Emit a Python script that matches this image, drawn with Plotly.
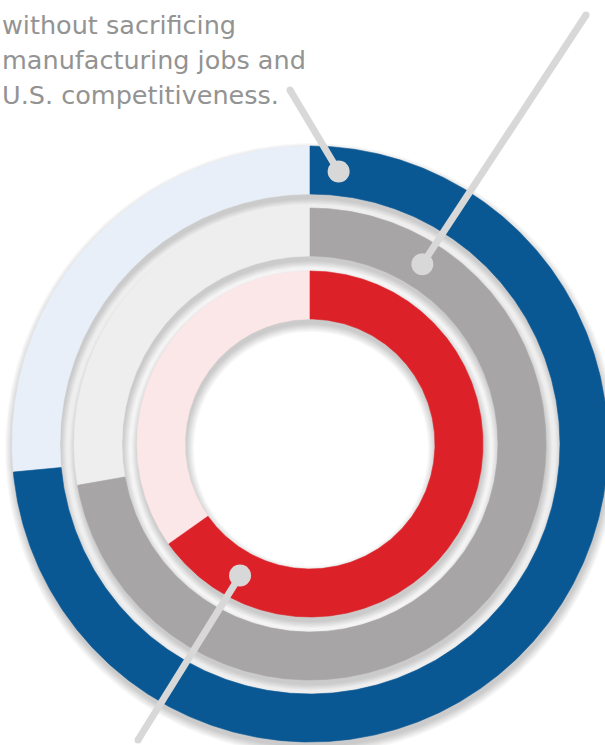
import numpy as np
import plotly.graph_objects as go

# ---- data ----
ring_names = ["Outer", "Middle", "Inner"]
ring_values = [73.5, 72.2, 65.2]          # percent filled (clockwise from 12 o'clock)
ring_colors = ["#0a5893", "#a7a5a6", "#dc2128"]
ring_rest_colors = ["#e8eff9", "#eeeeee", "#fbe6e8"]
text_lines = ["without sacrificing", "manufacturing jobs and", "U.S. competitiveness."]

# ---- layout constants ----
W, H = 605, 745
CX, CY = 310, 444
RADII = [(250, 298), (188, 236), (125, 173)]
callout_angles = [6, 32, 208]             # degrees clockwise from top, where dots sit
callout_ends = [(290, 90), (586, 15), (138, 740)]

def pt(r, deg, cx=CX, cy=CY):
    t = np.radians(deg)
    return cx + r * np.sin(t), cy - r * np.cos(t)

def sector(r0, r1, a0, a1, cx=CX, cy=CY):
    n = max(int(abs(a1 - a0) * 2), 8)
    ang = np.linspace(a0, a1, n)
    xo, yo = pt(r1, ang, cx, cy)
    xi, yi = pt(r0, ang[::-1], cx, cy)
    x = np.concatenate([xo, xi, xo[:1]])
    y = np.concatenate([yo, yi, yo[:1]])
    return x, y

fig = go.Figure()

# drop shadows (soft, offset downward)
for (r0, r1) in RADII:
    for k in range(0, 9):
        x, y = sector(r0 - k, r1 + k, 0, 360, CX + 1, CY + 5)
        fig.add_trace(go.Scatter(x=x, y=y, mode="lines", fill="toself",
                                 fillcolor="rgba(0,0,0,0.022)", line=dict(width=0),
                                 hoverinfo="skip", showlegend=False))

# rings
for name, v, c, rc, (r0, r1) in zip(ring_names, ring_values, ring_colors, ring_rest_colors, RADII):
    a = v / 100 * 360
    x, y = sector(r0, r1, a, 360)
    fig.add_trace(go.Scatter(x=x, y=y, mode="lines", fill="toself", fillcolor=rc,
                             line=dict(width=0.6, color=rc), hoverinfo="skip", showlegend=False))
    x, y = sector(r0, r1, 0, a)
    fig.add_trace(go.Scatter(x=x, y=y, mode="lines", fill="toself", fillcolor=c,
                             line=dict(width=0.6, color=c), name=f"{name}: {v}%",
                             hoverinfo="name", showlegend=False))

# callout leader lines
lc = "#d9d8d9"
for ang, (r0, r1), (ex, ey) in zip(callout_angles, RADII, callout_ends):
    dx, dy = pt((r0 + r1) / 2, ang)
    fig.add_trace(go.Scatter(x=[dx, ex], y=[dy, ey], mode="lines",
                             line=dict(color=lc, width=7), hoverinfo="skip", showlegend=False))
    fig.add_trace(go.Scatter(x=[ex], y=[ey], mode="markers",
                             marker=dict(color=lc, size=7), hoverinfo="skip", showlegend=False))
    fig.add_trace(go.Scatter(x=[dx], y=[dy], mode="markers",
                             marker=dict(color=lc, size=22), hoverinfo="skip", showlegend=False))

# text
for i, t in enumerate(text_lines):
    fig.add_annotation(x=0, y=1 - (25 + 35 * i) / H, xref="paper", yref="paper", text=t,
                       showarrow=False, xanchor="left", yanchor="middle",
                       font=dict(family="DejaVu Sans", size=25.5, color="#939393"))

fig.update_layout(
    width=W, height=H, margin=dict(l=0, r=0, t=0, b=0),
    paper_bgcolor="white", plot_bgcolor="white",
    xaxis=dict(range=[0, W], visible=False, fixedrange=True),
    yaxis=dict(range=[H, 0], visible=False, fixedrange=True),
    showlegend=False,
)

fig.write_html("out.html")
